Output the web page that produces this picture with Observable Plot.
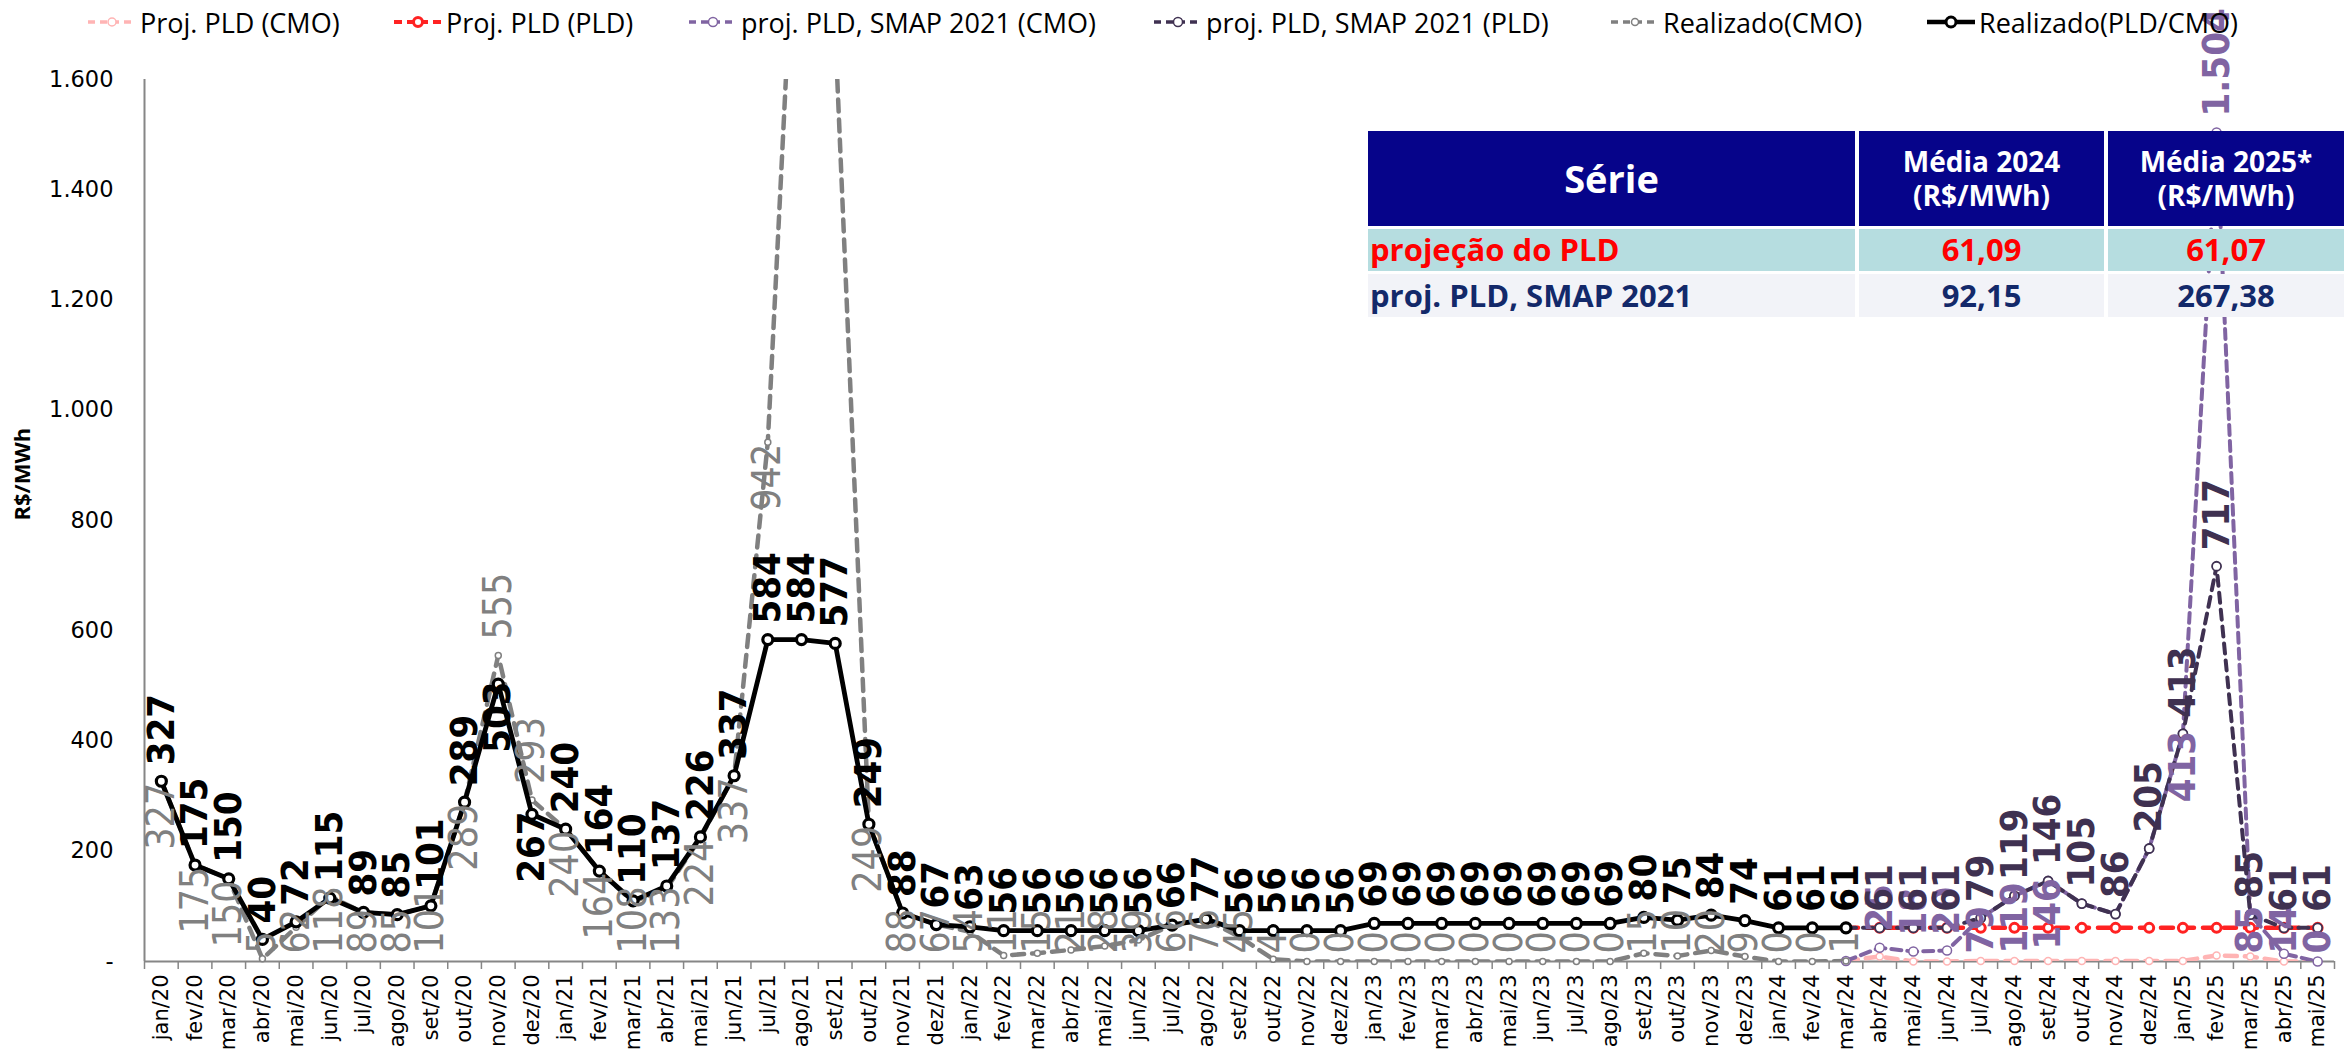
<!DOCTYPE html>
<html><head><meta charset="utf-8">
<script src="https://cdn.jsdelivr.net/npm/d3@7"></script>
<script src="https://cdn.jsdelivr.net/npm/@observablehq/plot@0.6"></script>
<style>
body{margin:0;background:#fff;width:2344px;height:1049px;position:relative;overflow:hidden}
#legend{position:relative;height:44px;font-family:"Open Sans",sans-serif;font-size:27px;color:#000}
.li{position:absolute;top:0;height:44px;display:flex;align-items:center;white-space:nowrap}
.li svg{margin-right:4px}
#chart svg{overflow:visible}
#tbl{position:absolute;left:1368px;top:131px;width:976px;z-index:5;font-family:"Open Sans",sans-serif;font-weight:700}
.row{display:flex;gap:4px;margin-bottom:3px}
.c{display:flex;align-items:center;justify-content:center;text-align:center;line-height:1.2}
</style></head><body>
<div id="legend"></div>
<div id="chart"></div>
<div id="tbl"></div>
<script>
// ---------------- DATA ----------------
const months = ["jan/20","fev/20","mar/20","abr/20","mai/20","jun/20","jul/20","ago/20","set/20","out/20","nov/20","dez/20",
"jan/21","fev/21","mar/21","abr/21","mai/21","jun/21","jul/21","ago/21","set/21","out/21","nov/21","dez/21",
"jan/22","fev/22","mar/22","abr/22","mai/22","jun/22","jul/22","ago/22","set/22","out/22","nov/22","dez/22",
"jan/23","fev/23","mar/23","abr/23","mai/23","jun/23","jul/23","ago/23","set/23","out/23","nov/23","dez/23",
"jan/24","fev/24","mar/24","abr/24","mai/24","jun/24","jul/24","ago/24","set/24","out/24","nov/24","dez/24",
"jan/25","fev/25","mar/25","abr/25","mai/25"];
// Realizado (jan/20 .. mar/24)
const realizadoPLD = [327,175,150,40,72,115,89,85,101,289,503,267,
  240,164,110,137,226,337,584,584,577,249,88,67,
  63,56,56,56,56,56,66,77,56,56,56,56,
  69,69,69,69,69,69,69,69,80,75,84,74,
  61,61,61];
const realizadoCMO = [327,175,150,5,62,118,89,85,101,289,555,293,
  240,164,108,133,224,337,942,2170,1690,249,88,67,
  54,11,15,21,28,39,66,76,45,4,0,0,
  0,0,0,0,0,0,0,0,15,10,20,9,
  0,0,1];
// Projections (mar/24 .. mai/25)
const projStart = "mar/24";
const projPLDcmo = [1,9,0,0,1,1,1,1,1,1,1,11,9,0,0];
const projPLDpld = [61,61,61,61,61,61,61,61,61,61,61,61,61,61,61];
const smapCMO   = [1,25,18,20,79,119,146,105,86,205,413,1504,85,14,0];
const smapPLD   = [61,61,61,61,79,119,146,105,86,205,413,717,85,61,61];
// Months whose labels sit on the other side of the point
const pldBelow = ["nov/20","dez/20"];
const cmoAbove = ["nov/20","dez/20"];
const smapCMOlabelAbove = ["abr/24","mai/24","jun/24","fev/25"];
const smapCMOlabelBelow = ["jul/24","ago/24","set/24","jan/25","mar/25","abr/25","mai/25"];
// Table
const tableHeader = ["Série","Média 2024\n(R$/MWh)","Média 2025*\n(R$/MWh)"];
const tableRows = [["projeção do PLD","61,09","61,07"],["proj. PLD, SMAP 2021","92,15","267,38"]];
const legendItems = ["Proj. PLD (CMO)","Proj. PLD (PLD)","proj. PLD, SMAP 2021 (CMO)","proj. PLD, SMAP 2021 (PLD)","Realizado(CMO)","Realizado(PLD/CMO)"];

// ---------------- STYLES ----------------
const C = {pink:"#ffb4b4", red:"#ff2222", lpur:"#8064a2", dpur:"#3f3151", grey:"#808080", black:"#000"};
const W=2344, H=1005, mt=35, mb=88, ml=144, mr=10;
const ppu = (H-mt-mb)/1600;
const fam = '"Liberation Sans Narrow","Arial Narrow","DejaVu Sans Condensed",sans-serif';
const fmt = v => d3.format(",")(v).replace(/,/g,".");
const CH = 17.5;

const p0 = months.indexOf(projStart);
const mk = (vals, start) => vals.map((v,j)=>({i:start+j, m:months[start+j], v}));
const sPLD = mk(realizadoPLD,0), sCMO = mk(realizadoCMO,0);
const sPink = mk(projPLDcmo,p0), sRed = mk(projPLDpld,p0), sL = mk(smapCMO,p0), sD = mk(smapPLD,p0);

function labels(series, isAbove, filter = () => true){
  return series.filter(d => d.v <= 1600 && filter(d)).map(d => {
    const t = fmt(d.v);
    if (isAbove(d)) return {x:d.i+0.5, y:d.v + 16/ppu, t};
    let b = d.v - (16 + t.length*CH)/ppu;
    b = Math.max(b, 8/ppu);
    return {x:d.i+0.5, y:b, t};
  });
}
const lblPLD = labels(sPLD, d => !pldBelow.includes(d.m));
const lblCMO = labels(sCMO, d => cmoAbove.includes(d.m));
const lblL = labels(sL, d => smapCMOlabelAbove.includes(d.m), d => smapCMOlabelAbove.includes(d.m) || smapCMOlabelBelow.includes(d.m));
const lblD = labels(sD.slice(1), d => true);

const X = d => d.i + 0.5;
function series(data, color, sw, dash, r, dsw){
  return [
    Plot.line(data, {x:X, y:"v", stroke:color, strokeWidth:sw, strokeDasharray:dash, strokeLinejoin:"round", clip:true}),
    Plot.dot(data.filter(d=>d.v<=1600), {x:X, y:"v", r, fill:"white", stroke:color, strokeWidth:dsw})
  ];
}
const txt = (rows, color, weight, size) => Plot.text(rows, {x:"x", y:"y", text:"t", rotate:-90, textAnchor:"start",
  fill:color, fontWeight:weight, fontSize:size, fontFamily:fam});

const chart = Plot.plot({
  width:W, height:H, marginTop:mt, marginBottom:mb, marginLeft:ml, marginRight:mr,
  x:{type:"linear", domain:[0,65]},
  y:{type:"linear", domain:[0,1600]},
  style:{background:"white", overflow:"visible"},
  marks:[
    Plot.ruleY([0], {stroke:"#868686", strokeWidth:2}),
    Plot.ruleX([0], {y1:0, y2:1600, stroke:"#868686", strokeWidth:2}),
    Plot.axisX({ticks:d3.range(66), tickSize:8, tickFormat:()=>"", stroke:"#868686", strokeWidth:1.5, label:null}),
    Plot.axisX({ticks:d3.range(65).map(i=>i+0.5), tickSize:0, tickPadding:13, tickRotate:-90,
      tickFormat:d=>months[Math.round(d-0.5)], fontSize:21, fontFamily:"DejaVu Sans", fill:"#000", label:null}),
    Plot.axisY({ticks:d3.range(0,1601,200), tickSize:0, tickPadding:31, tickFormat:d=>d===0?"-":fmt(d),
      fontSize:22.5, fontFamily:"DejaVu Sans", fill:"#000", label:null}),
    Plot.text(["R$/MWh"], {frameAnchor:"left", dx:-122, rotate:-90, fontWeight:"bold", fontSize:22, fontFamily:"Open Sans", fill:"#000"}),
    ...series(sPink, C.pink, 4.5, "12,8", 3.5, 1.5),
    ...series(sRed, C.red, 4.5, "12,9", 4.5, 3),
    ...series(sL, C.lpur, 4, "10,6", 4.5, 1.5),
    ...series(sD, C.dpur, 4, "10,7", 4.5, 1.8),
    ...series(sCMO, C.grey, 4.5, "12,8", 3, 1.5),
    ...series(sPLD, C.black, 4.8, null, 5, 3.2),
    txt(lblL, C.lpur, "bold", 38),
    txt(lblD, C.dpur, "bold", 38),
    txt(lblCMO, C.grey, "normal", 39),
    txt(lblPLD, C.black, "bold", 38)
  ]
});
document.getElementById("chart").appendChild(chart);

// ---------------- LEGEND ----------------
const legendLeft = [88,394,689,1154,1611,1927];
const legendStyle = [
  {c:C.pink, dash:"7,5", r:4, w:3.5, mw:1.5},
  {c:C.red, dash:"8,5", r:4.5, w:4, mw:3},
  {c:C.lpur, dash:"7,5", r:4.5, w:3.5, mw:1.5},
  {c:C.dpur, dash:"7,5", r:4.5, w:3.5, mw:1.5},
  {c:C.grey, dash:"7,5", r:3.5, w:3.5, mw:1.5},
  {c:C.black, dash:null, r:5, w:4.5, mw:3}
];
const lg = document.getElementById("legend");
legendItems.forEach((name,k)=>{
  const s = legendStyle[k];
  const div = document.createElement("div");
  div.className="li"; div.style.left = legendLeft[k]+"px";
  div.innerHTML = `<svg width="48" height="20"><line x1="0" x2="48" y1="10" y2="10" stroke="${s.c}" stroke-width="${s.w}" ${s.dash?`stroke-dasharray="${s.dash}"`:""}/><circle cx="24" cy="10" r="${s.r}" fill="white" stroke="${s.c}" stroke-width="${s.mw}"/></svg><span>${name}</span>`;
  lg.appendChild(div);
});

// ---------------- TABLE ----------------
const colW = [487,245,236];
const tb = document.getElementById("tbl");
let h = `<div class="row" style="height:95px">` + tableHeader.map((t,j)=>`<div class="c" style="width:${colW[j]}px;background:#06048a;color:#fff;font-size:${j===0?38:28}px">${t.replace("\n","<br>")}</div>`).join("") + `</div>`;
const rowBg = ["#b6dde0","#f2f3f8"], rowCol = ["#ff0000","#13296a"];
tableRows.forEach((r,ri)=>{
  h += `<div class="row" style="height:${ri===0?42:43}px">` + r.map((t,j)=>`<div class="c" style="width:${colW[j]}px;background:${rowBg[ri]};color:${rowCol[ri]};font-size:31px;${j===0?"justify-content:flex-start;padding-left:2px;width:"+(colW[0]-2)+"px":""}">${t}</div>`).join("") + `</div>`;
});
tb.innerHTML = h;
</script></body></html>
